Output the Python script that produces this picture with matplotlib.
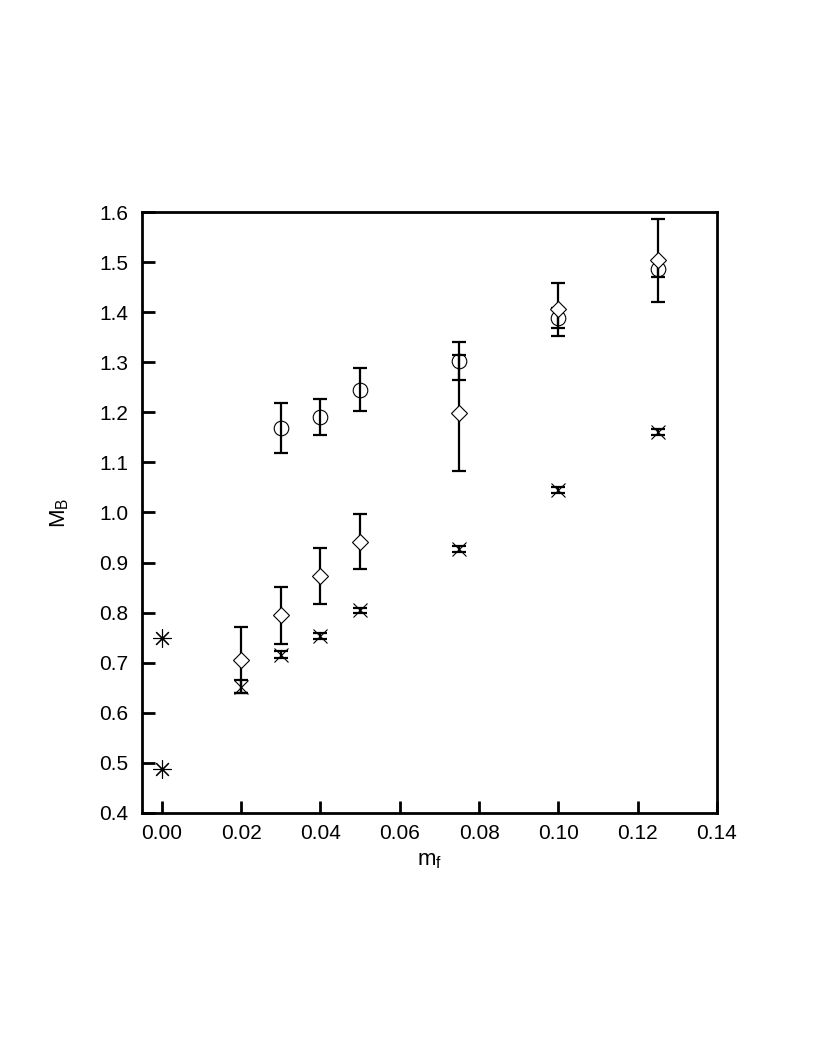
import numpy as np
import matplotlib
matplotlib.use("Agg")
import matplotlib.pyplot as plt

plt.rcParams['font.family'] = ['Liberation Sans', 'DejaVu Sans']
plt.rcParams['mathtext.default'] = 'regular'

# circles
mf_circ = [0.03, 0.04, 0.05, 0.075, 0.10, 0.125]
mb_circ = [1.169, 1.191, 1.245, 1.302, 1.388, 1.486]
err_circ = [0.050, 0.036, 0.043, 0.038, 0.020, 0.016]

# diamonds
mf_diam = [0.02, 0.03, 0.04, 0.05, 0.075, 0.10, 0.125]
mb_diam = [0.705, 0.795, 0.873, 0.942, 1.199, 1.406, 1.504]
err_diam = [0.066, 0.057, 0.056, 0.055, 0.116, 0.053, 0.083]

# crosses
mf_x = [0.02, 0.03, 0.04, 0.05, 0.075, 0.10, 0.125]
mb_x = [0.652, 0.716, 0.753, 0.805, 0.928, 1.045, 1.161]
err_x = [0.013, 0.007, 0.006, 0.005, 0.006, 0.006, 0.006]

# asterisks at m_f = 0
mf_ast = [0.0, 0.0]
mb_ast = [0.749, 0.487]

fig = plt.figure(figsize=(8.17, 10.58), dpi=100)
ax = fig.add_axes([0.1738, 0.2316, 0.7038, 0.568])

eb = dict(fmt='none', ecolor='black', elinewidth=1.6, capsize=5, capthick=1.6)
ax.errorbar(mf_circ, mb_circ, yerr=err_circ, **eb)
ax.errorbar(mf_diam, mb_diam, yerr=err_diam, **eb)
ax.errorbar(mf_x, mb_x, yerr=err_x, **eb)

ax.plot(mf_circ, mb_circ, 'o', ms=10.5, mfc='none', mec='black', mew=0.8, ls='none')
ax.plot(mf_diam, mb_diam, 'D', ms=8.5, mfc='white', mec='black', mew=0.8, ls='none')
ax.plot(mf_x, mb_x, 'x', ms=10, mec='black', mew=0.8, ls='none')
ax.plot(mf_ast, mb_ast, marker=(8, 2, 0), ms=13, mec='black', mew=0.8, ls='none')

ax.set_xlim(-0.005, 0.14)
ax.set_ylim(0.4, 1.6)
ax.set_xticks(np.arange(0, 0.141, 0.02))
ax.set_yticks(np.arange(0.4, 1.61, 0.1))
ax.set_xticklabels(['%.2f' % v for v in np.arange(0, 0.141, 0.02)])
ax.set_yticklabels(['%.1f' % v for v in np.arange(0.4, 1.61, 0.1)])
ax.tick_params(direction='in', length=9, width=2, labelsize=15)
ax.tick_params(axis='y', pad=10)
ax.tick_params(axis='x', pad=8)
for s in ax.spines.values():
    s.set_linewidth(2)

ax.set_xlabel('$m_f$', fontsize=16, labelpad=5)
ax.set_ylabel('$M_B$', fontsize=16, labelpad=20)

fig.savefig('out.png', dpi=100)
